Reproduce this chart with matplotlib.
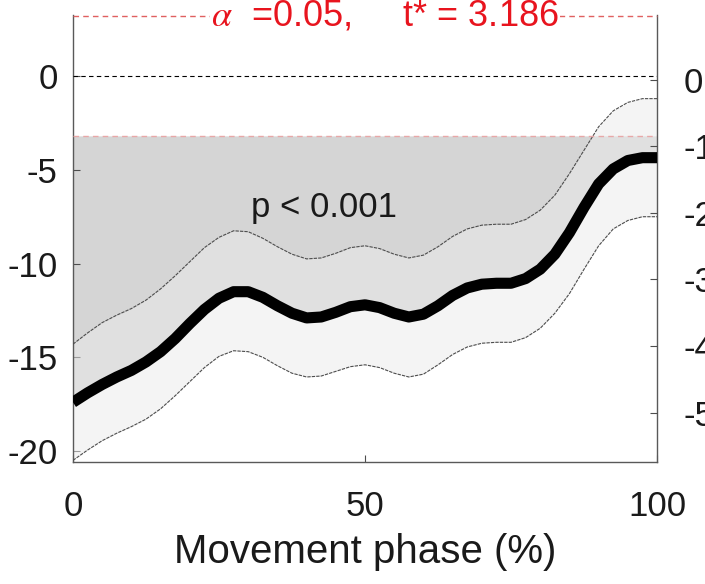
import numpy as np
import matplotlib
matplotlib.use("Agg")
import matplotlib.pyplot as plt

plt.rcParams['font.family'] = ['Liberation Sans', 'DejaVu Sans']
plt.rcParams['axes.unicode_minus'] = False
plt.rcParams['mathtext.fontset'] = 'stix'

# Movement phase (%) sampled every 2.5 %
phase = [0, 2.5, 5, 7.5, 10, 12.5, 15, 17.5, 20, 22.5, 25, 27.5, 30, 32.5, 35,
         37.5, 40, 42.5, 45, 47.5, 50, 52.5, 55, 57.5, 60, 62.5, 65, 67.5, 70,
         72.5, 75, 77.5, 80, 82.5, 85, 87.5, 90, 92.5, 95, 97.5, 100]

# SPM{t} trajectory
t_stat = [-17.4, -16.9, -16.45, -16.05, -15.7, -15.25, -14.7, -14.0, -13.2, -12.45,
          -11.85, -11.5, -11.5, -11.8, -12.25, -12.65, -12.9, -12.85, -12.6, -12.3,
          -12.2, -12.35, -12.65, -12.85, -12.7, -12.25, -11.7, -11.3, -11.1, -11.05,
          -11.05, -10.8, -10.3, -9.5, -8.35, -7.0, -5.75, -4.95, -4.5, -4.35, -4.35]

# Confidence band limits
band_upper = [-14.3, -13.7, -13.15, -12.75, -12.4, -11.95, -11.35, -10.65, -9.9, -9.15,
              -8.6, -8.25, -8.3, -8.65, -9.1, -9.5, -9.75, -9.7, -9.45, -9.15,
              -9.05, -9.2, -9.5, -9.7, -9.55, -9.1, -8.55, -8.15, -7.95, -7.9,
              -7.9, -7.65, -7.15, -6.35, -5.2, -3.95, -2.7, -1.85, -1.4, -1.2, -1.2]
band_lower = [-20.5, -19.95, -19.45, -19.05, -18.7, -18.3, -17.75, -17.05, -16.3, -15.55,
              -14.95, -14.65, -14.7, -15.0, -15.45, -15.85, -16.05, -16.0, -15.75, -15.5,
              -15.4, -15.55, -15.85, -16.05, -15.9, -15.4, -14.85, -14.45, -14.25, -14.2,
              -14.2, -13.95, -13.45, -12.65, -11.6, -10.3, -9.05, -8.15, -7.7, -7.5, -7.5]

t_crit = 3.186
p_text = "p < 0.001"
thresh_text = r'$\alpha$  =0.05,     t* = 3.186'

left_ticks = [0, -5, -10, -15, -20]
right_ticks = [0, -1, -2, -3, -4, -5]
x_ticks = [0, 50, 100]

x = np.array(phase)
t = np.array(t_stat)
up = np.array(band_upper)
lo = np.array(band_lower)

fig = plt.figure(figsize=(7.05, 5.84), dpi=100)
ax = fig.add_axes([0.1035, 0.2089, 0.8285, 0.7651])

# suprathreshold cluster
ax.fill_between(x, t, -t_crit, where=t < -t_crit, color='#d5d5d5', lw=0, zorder=1)
# confidence band
ax.fill_between(x, lo, up, color='#ebebeb', alpha=0.5, lw=0, zorder=2)
ax.plot(x, up, color='0.3', lw=0.8, ls=(0, (3, 1)), zorder=3)
ax.plot(x, lo, color='0.3', lw=0.8, ls=(0, (3, 1)), zorder=3)
ax.plot(x, t, color='black', lw=8, solid_capstyle='butt', solid_joinstyle='round', zorder=4)

# reference lines
ax.axhline(0, color='black', lw=0.8, ls=(0, (4, 3)), zorder=3)
ax.axhline(-t_crit, color='#e8a8a8', lw=1.0, ls=(0, (4, 3)), zorder=3)
ax.axhline(t_crit, color='#e06060', lw=1.0, ls=(0, (4, 3)), zorder=3, clip_on=False)

ax.text(53.4, t_crit, thresh_text, color='#e8141e',
        fontsize=26, ha='center', va='center', zorder=5,
        bbox=dict(facecolor='white', edgecolor='none', pad=1))
ax.text(43, -7.0, p_text, color='#1a1a1a', fontsize=25, ha='center', va='center', zorder=5)

ax.set_xlim(0, 100)
ax.set_ylim(-20.587, 3.253)
ax.set_xticks(x_ticks)
ax.set_yticks(left_ticks)
ax.tick_params(direction='in', length=5, width=0.8, labelsize=25, colors='0.3',
               labelcolor='#1a1a1a')
ax.tick_params(axis='x', pad=20)
ax.tick_params(axis='y', pad=11)
ax.set_xlabel('Movement phase (%)', fontsize=29, color='#1a1a1a', labelpad=7)
for s in ['left', 'bottom', 'right']:
    ax.spines[s].set_color('0.35')
    ax.spines[s].set_linewidth(1.0)
ax.spines['top'].set_visible(False)

ax2 = ax.twinx()
ax2.set_ylim(-5.743, 0.968)
ax2.set_yticks(right_ticks)
ax2.tick_params(direction='in', length=5, width=0.8, labelsize=25, pad=19, colors='0.3',
                labelcolor='#1a1a1a')
for s in ax2.spines.values():
    s.set_visible(False)

fig.savefig('out.png', dpi=100)
